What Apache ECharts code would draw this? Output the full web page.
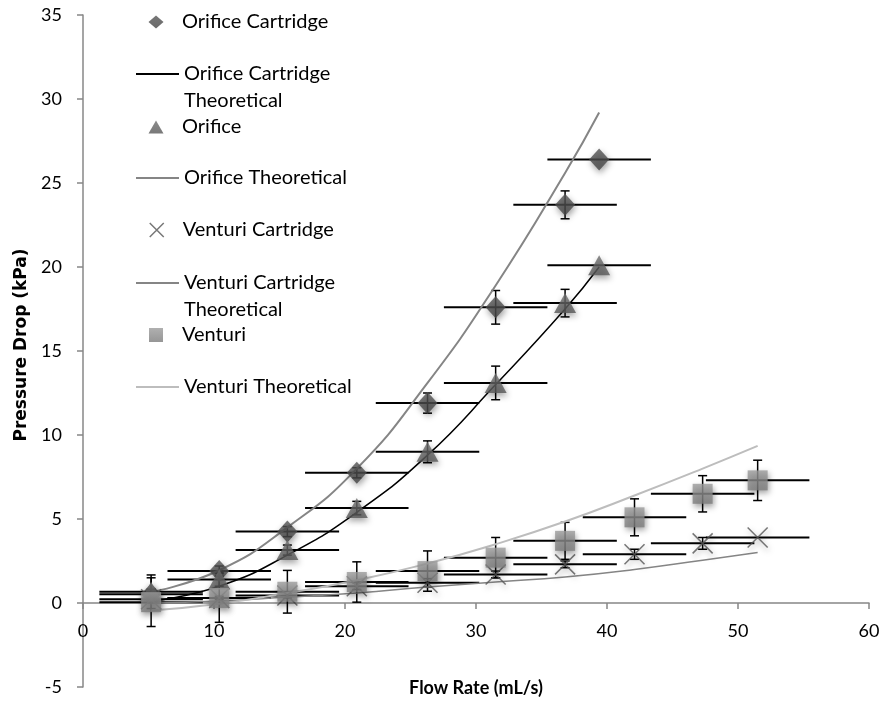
<!doctype html>
<html>
<head>
<meta charset="utf-8">
<style>
	html, body { margin: 0; padding: 0; background: #fff; }
	#chart { width: 883px; height: 708px; }
</style>
</head>
<body>
<div id="chart"></div>
<script src="https://cdn.jsdelivr.net/npm/echarts@6/dist/echarts.min.js"></script>
<script>
	// flow rates (mL/s)
	var orificeFlow = [5.2, 10.4, 15.6, 20.9, 26.3, 31.5, 36.8, 39.4];
	var venturiFlow = [5.2, 10.4, 15.6, 20.9, 26.3, 31.5, 36.8, 42.1, 47.3, 51.5];
	var orificeFlowErr = [3.95, 3.95, 3.95, 3.95, 3.95, 3.95, 3.95, 3.95];
	var venturiFlowErr = [3.95, 3.95, 3.95, 3.95, 3.95, 3.95, 3.95, 3.95, 3.95, 3.95];

	// measured pressure drops (kPa) and their errors
	var orificeCartridge = [0.52, 1.9, 4.25, 7.75, 11.9, 17.6, 23.7, 26.4];
	var orificeCartridgeErr = [0.3, 0.3, 0.3, 0.3, 0.6, 1.0, 0.83, 0];
	var orifice = [0.67, 1.4, 3.15, 5.65, 9.0, 13.1, 17.85, 20.1];
	var orificeErr = [1.0, 0.4, 0.3, 0.4, 0.65, 1.0, 0.82, 0];
	var venturiCartridge = [0.22, 0.3, 0.45, 1.0, 1.2, 1.7, 2.3, 2.9, 3.55, 3.9];
	var venturiCartridgeErr = [0.1, 0.1, 0.15, 0.2, 0.25, 0.2, 0.2, 0.3, 0.35, 0];
	var venturi = [0.05, 0.3, 0.67, 1.25, 1.9, 2.7, 3.7, 5.1, 6.5, 7.3];
	var venturiErr = [1.45, 1.45, 1.27, 1.2, 1.2, 1.2, 1.1, 1.1, 1.08, 1.2];

	// theoretical curves
	var orificeCartridgeTheory = [0.1, 1.0, 2.85, 5.4, 8.8, 13.0, 17.5, 20.0];
	var orificeTheory = [0.65, 1.95, 4.5, 8.0, 13.1, 18.9, 25.6, 29.2];
	var venturiCartridgeTheory = [0.0, 0.12, 0.35, 0.6, 0.95, 1.25, 1.55, 2.0, 2.55, 3.0];
	var venturiTheory = [-0.45, -0.05, 0.6, 1.35, 2.35, 3.5, 4.85, 6.4, 8.0, 9.35];

	var legendNames = ['Orifice Cartridge', 'Orifice Cartridge Theoretical', 'Orifice', 'Orifice Theoretical',
		'Venturi Cartridge', 'Venturi Cartridge Theoretical', 'Venturi', 'Venturi Theoretical'];
	var legendRows = [22, 74, 127, 178, 230, 283, 335, 387];

	var font = 'Lato, "Open Sans", sans-serif';
	var axisColor = '#878787';
	var crossPath = 'path://M0,0L10,10M10,0L0,10';
	var shadow = { shadowBlur: 6, shadowColor: 'rgba(0,0,0,0.45)', shadowOffsetX: 1, shadowOffsetY: 3 };

	function pairs(xs, ys) {
		return xs.map(function(x, i) { return [x, ys[i]]; });
	}
	function errRows(xs, ys, xe, ye) {
		return xs.map(function(x, i) { return [x, ys[i], xe[i], ye[i]]; });
	}
	function grad(top, bottom) {
		return { type: 'linear', x: 0, y: 0, x2: 0, y2: 1, colorStops: [{ offset: 0, color: top }, { offset: 1, color: bottom }] };
	}

	var errorBars = [].concat(
		errRows(orificeFlow, orificeCartridge, orificeFlowErr, orificeCartridgeErr),
		errRows(orificeFlow, orifice, orificeFlowErr, orificeErr),
		errRows(venturiFlow, venturiCartridge, venturiFlowErr, venturiCartridgeErr),
		errRows(venturiFlow, venturi, venturiFlowErr, venturiErr)
	);

	// one legend per item so the rows keep Excel's even spacing
	var legends = legendNames.map(function(name, i) {
		var isLine = name.indexOf('Theoretical') > 0;
		var two = isLine && name.indexOf('Cartridge') > 0;
		var item = { name: name };
		var w = 43, h = 14, left = 135, pad = 0;
		if (isLine) {
			item.itemStyle = { color: 'rgba(0,0,0,0)', borderColor: 'rgba(0,0,0,0)', borderWidth: 0 };
		} else {
			w = (name === 'Orifice Cartridge' || name === 'Orifice') ? 15 : 14;
			h = (name === 'Orifice Cartridge' || name === 'Orifice') ? 13 : 14;
			left = 156 - w / 2;
			pad = 182 - (left + w + 5);
		}
		if (name === 'Venturi Cartridge') {
			item.icon = crossPath;
			item.itemStyle = { color: 'rgba(0,0,0,0)', borderColor: '#555', borderWidth: 1.5 };
		}
		return {
			data: [item],
			left: left,
			top: two ? legendRows[i] - 39.75 : legendRows[i] - 13.25,
			padding: 0,
			orient: 'vertical',
			itemWidth: w,
			itemHeight: h,
			selectedMode: false,
			formatter: function(n) {
				if (two) return '\n' + n.replace(' Theoretical', '') + '\nTheoretical';
				return n;
			},
			textStyle: { fontFamily: font, fontSize: 20, lineHeight: 26.5, color: '#000', padding: [0, 0, 0, pad] }
		};
	});

	var myChart = echarts.init(document.getElementById('chart'));
	var option = {
		backgroundColor: '#fff',
		animation: false,
		grid: { left: 83, right: 14, top: 15, bottom: 21, containLabel: false, outerBoundsMode: 'none' },
		legend: legends,
		xAxis: {
			type: 'value', min: 0, max: 60, interval: 10,
			position: 'bottom', offset: -84,
			splitLine: { show: false },
			axisLine: { onZero: false, lineStyle: { color: axisColor, width: 1.5 } },
			axisTick: { show: true, length: 6, lineStyle: { color: axisColor, width: 1.5 } },
			axisLabel: { show: true, margin: 19, fontSize: 18, color: '#000', fontFamily: font },
			name: 'Flow Rate (mL/s)', nameLocation: 'middle', nameGap: 76,
			nameTextStyle: { fontSize: 18, fontWeight: 'bold', color: '#000', fontFamily: font }
		},
		yAxis: {
			type: 'value', min: -5, max: 35, interval: 5,
			splitLine: { show: false },
			axisLine: { show: true, onZero: false, lineStyle: { color: axisColor, width: 1.5 } },
			axisTick: { show: true, length: 6, lineStyle: { color: axisColor, width: 1.5 } },
			axisLabel: { margin: 21, fontSize: 18, color: '#000', fontFamily: font },
			name: 'Pressure Drop (kPa)', nameLocation: 'middle', nameGap: 40,
			nameTextStyle: { fontSize: 17, fontWeight: 'bold', color: '#000', fontFamily: '"DejaVu Sans", sans-serif', padding: [0, 0, 0, 12] }
		},
		series: [
			{
				type: 'custom', name: 'errors', z: 1, silent: true,
				encode: { x: 0, y: 1 },
				data: errorBars,
				renderItem: function(params, api) {
					var x = api.value(0), y = api.value(1), xe = api.value(2), ye = api.value(3);
					var l = api.coord([x - xe, y]), r = api.coord([x + xe, y]);
					var kids = [{ type: 'line', shape: { x1: l[0], y1: l[1], x2: r[0], y2: r[1] }, style: { stroke: '#000', lineWidth: 2 } }];
					if (ye > 0) {
						var t = api.coord([x, y + ye]), b = api.coord([x, y - ye]);
						var c = 4.5;
						kids.push({ type: 'line', shape: { x1: t[0], y1: t[1], x2: b[0], y2: b[1] }, style: { stroke: '#000', lineWidth: 1.5 } });
						kids.push({ type: 'line', shape: { x1: t[0] - c, y1: t[1], x2: t[0] + c, y2: t[1] }, style: { stroke: '#000', lineWidth: 1.5 } });
						kids.push({ type: 'line', shape: { x1: b[0] - c, y1: b[1], x2: b[0] + c, y2: b[1] }, style: { stroke: '#000', lineWidth: 1.5 } });
					}
					return { type: 'group', children: kids };
				}
			},
			{
				name: 'Orifice Cartridge Theoretical', type: 'line', z: 2, smooth: true, symbol: 'none',
				data: pairs(orificeFlow, orificeCartridgeTheory),
				lineStyle: { color: '#000', width: 1.5 }, itemStyle: { color: '#000' }
			},
			{
				name: 'Orifice Theoretical', type: 'line', z: 2, smooth: true, symbol: 'none',
				data: pairs(orificeFlow, orificeTheory),
				lineStyle: { color: '#858585', width: 2 }, itemStyle: { color: '#858585' }
			},
			{
				name: 'Venturi Cartridge Theoretical', type: 'line', z: 2, smooth: true, symbol: 'none',
				data: pairs(venturiFlow, venturiCartridgeTheory),
				lineStyle: { color: '#858585', width: 1.5 }, itemStyle: { color: '#858585' }
			},
			{
				name: 'Venturi Theoretical', type: 'line', z: 2, smooth: true, symbol: 'none',
				data: pairs(venturiFlow, venturiTheory),
				lineStyle: { color: '#bdbdbd', width: 2 }, itemStyle: { color: '#bdbdbd' }
			},
			{
				name: 'Orifice Cartridge', type: 'scatter', z: 3, symbol: 'diamond', symbolSize: [20, 22],
				data: pairs(orificeFlow, orificeCartridge),
				itemStyle: Object.assign({ color: grad('#555555', '#444444') }, shadow)
			},
			{
				name: 'Orifice', type: 'scatter', z: 3, symbol: 'triangle', symbolSize: [22, 20],
				data: pairs(orificeFlow, orifice),
				itemStyle: Object.assign({ color: grad('#6e6e6e', '#575757') }, shadow)
			},
			{
				name: 'Venturi Cartridge', type: 'scatter', z: 3, symbol: crossPath, symbolSize: 20,
				data: pairs(venturiFlow, venturiCartridge),
				itemStyle: Object.assign({ color: 'rgba(0,0,0,0)', borderColor: '#555', borderWidth: 1.5 }, shadow)
			},
			{
				name: 'Venturi', type: 'scatter', z: 3, symbol: 'rect', symbolSize: 20,
				data: pairs(venturiFlow, venturi),
				itemStyle: Object.assign({ color: grad('#9c9c9c', '#7c7c7c') }, shadow)
			}
		]
	};
	myChart.setOption(option);
</script>
</body>
</html>
